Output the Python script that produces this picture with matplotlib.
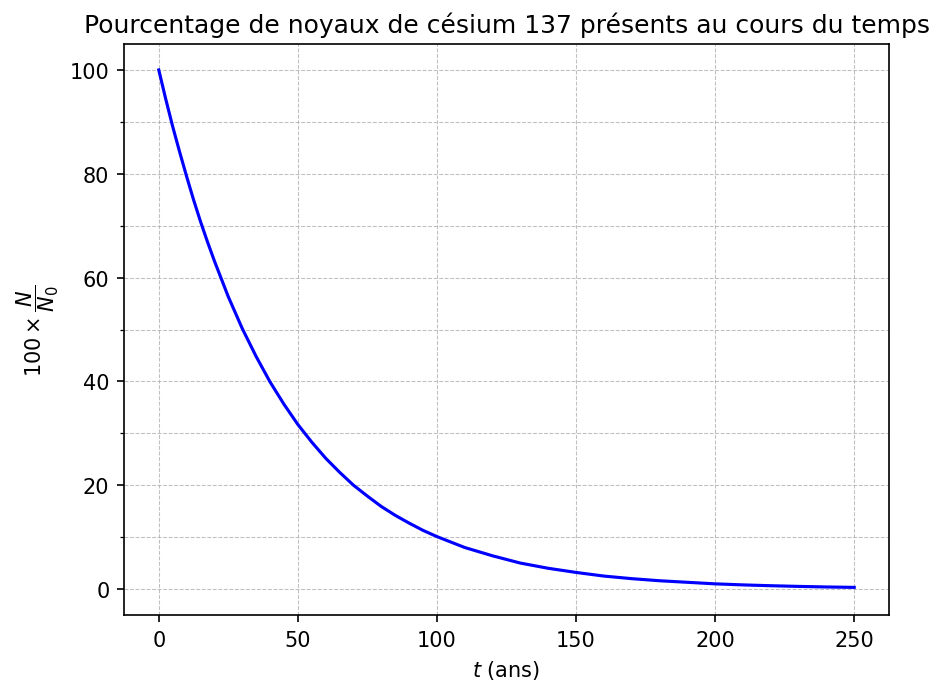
import matplotlib.pyplot as plt
from matplotlib.ticker import MultipleLocator

# temps (ans) et pourcentage restant
t = [0, 2.5, 5, 7.5, 10, 12.5, 15, 17.5, 20, 25, 30, 35, 40, 45, 50, 55, 60, 65, 70, 75,
     80, 85, 90, 95, 100, 110, 120, 130, 140, 150, 160, 170, 180, 190, 200, 210, 220,
     230, 240, 250]
pourcentage = [100, 94.4, 89.1, 84.2, 79.5, 75.0, 70.8, 66.9, 63.2, 56.3, 50.2, 44.8,
               39.9, 35.6, 31.7, 28.3, 25.2, 22.5, 20.0, 17.9, 15.9, 14.2, 12.7, 11.3,
               10.1, 8.0, 6.4, 5.0, 4.0, 3.2, 2.5, 2.0, 1.6, 1.3, 1.0, 0.8, 0.64, 0.51,
               0.40, 0.32]

fig = plt.figure(figsize=(6.3, 4.56), dpi=150)
ax = fig.add_axes([124/945, 68/684, 765/945, 571/684])

ax.plot(t, pourcentage, color='blue', lw=1.5)

ax.set_xlim(-12.5, 262.5)
ax.set_ylim(-5, 105)
ax.set_xticks([0, 50, 100, 150, 200, 250])
ax.yaxis.set_major_locator(MultipleLocator(20))
ax.yaxis.set_minor_locator(MultipleLocator(10))

ax.grid(True, which='major', ls='--', lw=0.5, color='#b0b0b0', alpha=0.8)
ax.grid(True, which='minor', axis='y', ls='--', lw=0.5, color='#b0b0b0', alpha=0.8)

ax.set_title('Pourcentage de noyaux de césium 137 présents au cours du temps', fontsize=12)
ax.set_xlabel(r'$t$ (ans)')
ax.set_ylabel(r'$100\times\dfrac{N}{N_0}$')

plt.savefig('out.png', dpi=150)
